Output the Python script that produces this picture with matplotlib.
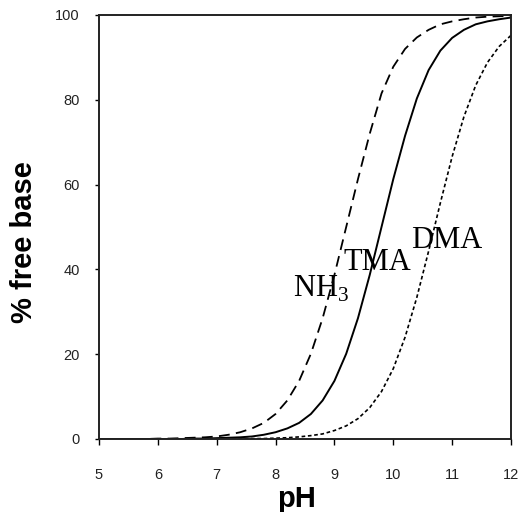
import numpy as np
import matplotlib
matplotlib.use("Agg")
import matplotlib.pyplot as plt

plt.rcParams["font.family"] = ["Liberation Sans", "DejaVu Sans"]

# ------------------------------------------------------
# DATA
# ------------------------------------------------------
ph = [5.0, 5.2, 5.4, 5.6, 5.8, 6.0, 6.2, 6.4, 6.6, 6.8,
      7.0, 7.2, 7.4, 7.6, 7.8, 8.0, 8.2, 8.4, 8.6, 8.8,
      9.0, 9.2, 9.4, 9.6, 9.8, 10.0, 10.2, 10.4, 10.6, 10.8,
      11.0, 11.2, 11.4, 11.6, 11.8, 12.0]

nh3 = [0.0, 0.0, 0.0, 0.0, 0.0, 0.1, 0.1, 0.2, 0.3, 0.4,
       0.6, 1.0, 1.6, 2.5, 3.8, 5.9, 9.1, 13.7, 20.1, 28.5,
       38.7, 50.0, 61.3, 72.0, 81.5, 87.8, 92.0, 94.7, 96.5, 97.8,
       98.5, 99.0, 99.4, 99.6, 99.7, 99.8]

tma = [0.0, 0.0, 0.0, 0.0, 0.0, 0.0, 0.0, 0.0, 0.1, 0.1,
       0.2, 0.3, 0.4, 0.6, 1.0, 1.6, 2.5, 3.8, 5.9, 9.1,
       13.7, 20.1, 28.5, 38.7, 50.0, 61.3, 71.5, 80.3, 87.0, 91.6,
       94.6, 96.5, 97.8, 98.5, 99.0, 99.4]

dma = [0.0, 0.0, 0.0, 0.0, 0.0, 0.0, 0.0, 0.0, 0.0, 0.0,
       0.0, 0.0, 0.1, 0.1, 0.1, 0.2, 0.3, 0.5, 0.8, 1.2,
       2.0, 3.1, 4.8, 7.4, 11.2, 16.6, 24.0, 33.4, 44.3, 55.7,
       66.6, 76.0, 83.4, 88.8, 92.6, 95.2]

x_ticks = [5, 6, 7, 8, 9, 10, 11, 12]
y_ticks = [0, 20, 40, 60, 80, 100]

# ------------------------------------------------------
# PLOTTING
# ------------------------------------------------------
fig = plt.figure(figsize=(5.23, 5.12), dpi=100)
ax = fig.add_axes([99/523, 1 - 439/512, 412/523, 424/512])

ax.plot(ph, nh3, color="black", linewidth=1.3, linestyle=(0, (6, 3.5)))
ax.plot(ph, tma, color="black", linewidth=1.4, linestyle="-")
ax.plot(ph, dma, color="black", linewidth=1.2, linestyle=(0, (2.2, 1.6)))

# curve labels
serif = "Liberation Serif"
ax.text(8.30, 33.6, r"NH$_\mathregular{3}$", family=serif, fontsize=22)
ax.text(9.15, 39.9, "TMA", family=serif, fontsize=22)
ax.text(10.31, 45.0, "DMA", family=serif, fontsize=22)

# ------------------------------------------------------
# FORMATTING
# ------------------------------------------------------
ax.set_xlim(5, 12)
ax.set_ylim(0, 100)
ax.set_xticks(x_ticks)
ax.set_yticks(y_ticks)
ax.tick_params(axis="x", direction="out", length=4, width=1, pad=17,
               labelsize=10.5, labelcolor="#222222")
ax.tick_params(axis="y", direction="out", length=3, width=1, pad=11,
               labelsize=10.5, labelcolor="#222222")
for s in ax.spines.values():
    s.set_linewidth(1.4)
    s.set_color("#222222")

ax.set_xlabel("pH", fontsize=21, fontweight="bold")
ax.xaxis.set_label_coords(0.48, -0.16)
ax.xaxis.label.set_verticalalignment("baseline")

ax.set_ylabel("% free base", fontsize=21, fontweight="bold")
ax.yaxis.set_label_coords(-0.148, 0.465)

fig.savefig("out.png", dpi=100)
